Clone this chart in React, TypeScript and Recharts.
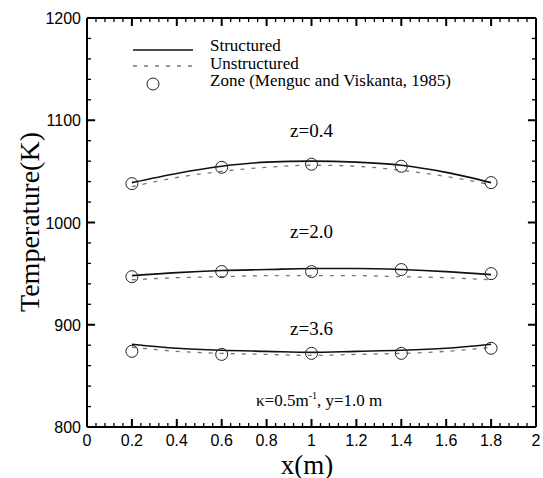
import { ComposedChart, Line, ReferenceDot, ReferenceLine, XAxis, YAxis } from "recharts";

// x positions of the computed profiles (m)
const xGrid = [0.2, 0.4, 0.6, 0.8, 1.0, 1.2, 1.4, 1.6, 1.8];

// temperature (K), one array per height z
const structured04 = [1039, 1048, 1055, 1059, 1060, 1059, 1056, 1049, 1039];
const unstructured04 = [1035, 1044, 1050, 1054, 1056, 1055, 1051, 1045, 1037];
const structured20 = [948, 951, 953, 954, 955, 955, 954, 952, 949];
const unstructured20 = [944, 946, 947, 948, 948, 948, 947, 946, 944];
const structured36 = [881, 877, 875, 874, 873, 874, 875, 877, 881];
const unstructured36 = [878, 874, 872, 871, 870, 871, 872, 874, 878];

// zone method reference points
const zoneX = [0.2, 0.6, 1.0, 1.4, 1.8];
const zone04 = [1038, 1054, 1057, 1055, 1039];
const zone20 = [947, 952, 952, 954, 950];
const zone36 = [874, 871, 872, 872, 877];

// curve labels: [text, x, T]
const curveLabels: Array<[string, number, number]> = [
  ["z=0.4", 1.0, 1084],
  ["z=2.0", 1.0, 985],
  ["z=3.6", 1.0, 890],
];

// axis ticks (majors every 0.2 / 100, four minors between)
const xTicks = Array.from({ length: 51 }, (_, i) => Math.round(i * 4) / 100);
const yTicks = Array.from({ length: 21 }, (_, i) => 800 + i * 20);

const X_MIN = 0;
const X_MAX = 2;
const Y_MIN = 800;
const Y_MAX = 1200;

const rows = xGrid.map((x, i) => ({
  x,
  s04: structured04[i],
  u04: unstructured04[i],
  s20: structured20[i],
  u20: unstructured20[i],
  s36: structured36[i],
  u36: unstructured36[i],
}));

const zoneRows = zoneX.map((x, i) => ({ x, z04: zone04[i], z20: zone20[i], z36: zone36[i] }));

const SERIF = "'Liberation Serif', 'Times New Roman', serif";
const SANS = "'Liberation Sans', Arial, sans-serif";

const fmtX = (v: number) => String(Number(v.toFixed(2)));
const isMajorX = (v: number) => Math.abs(v * 5 - Math.round(v * 5)) < 1e-6;
const isMajorY = (v: number) => v % 100 === 0;

// inward tick lengths, in data units (about 8px / 4px on this plot)
const xTickLen = (v: number) => (isMajorX(v) ? 7.8 : 3.9);
const yTickLen = (v: number) => (isMajorY(v) ? 0.036 : 0.018);

function xLabel(props: any) {
  const v = Number(props.payload.value);
  if (!isMajorX(v)) return <g />;
  return (
    <text x={Number(props.x)} y={Number(props.y) + 19} textAnchor="middle" fontFamily={SANS} fontSize={16} fill="#000">
      {fmtX(v)}
    </text>
  );
}

function yLabel(props: any) {
  const v = Number(props.payload.value);
  if (!isMajorY(v)) return <g />;
  return (
    <text x={Number(props.x) - 6} y={Number(props.y) + 6} textAnchor="end" fontFamily={SANS} fontSize={16} fill="#000">
      {v}
    </text>
  );
}

const al = { stroke: "#000", strokeWidth: 2 };

export default function App() {
  return (
    <div style={{ position: "relative", width: 543, height: 478, background: "#fff" }}>
      <style>{"body{margin:0}"}</style>
      <ComposedChart width={543} height={478} data={rows} margin={{ top: 17, right: 6, bottom: 50, left: 86 }}>
        <XAxis xAxisId="b" dataKey="x" type="number" domain={[X_MIN, X_MAX]} ticks={xTicks} interval={0} height={1} tickSize={0} tickMargin={0} tickLine={false} axisLine={al} tick={xLabel} />
        <XAxis xAxisId="t" orientation="top" dataKey="x" type="number" domain={[X_MIN, X_MAX]} ticks={xTicks} interval={0} height={1} tickSize={0} tickMargin={0} tickLine={false} axisLine={al} tick={false} />
        <YAxis yAxisId="l" type="number" domain={[Y_MIN, Y_MAX]} ticks={yTicks} interval={0} width={1} tickSize={0} tickMargin={0} tickLine={false} axisLine={al} tick={yLabel} />
        <YAxis yAxisId="r" orientation="right" type="number" domain={[Y_MIN, Y_MAX]} ticks={yTicks} interval={0} width={1} tickSize={0} tickMargin={0} tickLine={false} axisLine={al} tick={false} />

        {/* inward tick marks on all four sides */}
        {xTicks.map((v) => (
          <ReferenceLine
            key={"xb" + v}
            xAxisId="b"
            yAxisId="l"
            segment={[{ x: v, y: Y_MIN }, { x: v, y: Y_MIN + xTickLen(v) }]}
            stroke="#000"
            strokeWidth={isMajorX(v) ? 2 : 1.3}
            ifOverflow="visible"
          />
        ))}
        {xTicks.map((v) => (
          <ReferenceLine
            key={"xt" + v}
            xAxisId="b"
            yAxisId="l"
            segment={[{ x: v, y: Y_MAX }, { x: v, y: Y_MAX - xTickLen(v) }]}
            stroke="#000"
            strokeWidth={isMajorX(v) ? 2 : 1.3}
            ifOverflow="visible"
          />
        ))}
        {yTicks.map((v) => (
          <ReferenceLine
            key={"yl" + v}
            xAxisId="b"
            yAxisId="l"
            segment={[{ x: X_MIN, y: v }, { x: X_MIN + yTickLen(v), y: v }]}
            stroke="#000"
            strokeWidth={isMajorY(v) ? 2 : 1.3}
            ifOverflow="visible"
          />
        ))}
        {yTicks.map((v) => (
          <ReferenceLine
            key={"yr" + v}
            xAxisId="b"
            yAxisId="l"
            segment={[{ x: X_MAX, y: v }, { x: X_MAX - yTickLen(v), y: v }]}
            stroke="#000"
            strokeWidth={isMajorY(v) ? 2 : 1.3}
            ifOverflow="visible"
          />
        ))}

        {["u04", "u20", "u36"].map((k) => (
          <Line
            key={k}
            xAxisId="b"
            yAxisId="l"
            type="monotone"
            dataKey={k}
            stroke="#777"
            strokeWidth={1.3}
            strokeDasharray="4 7"
            dot={false}
            activeDot={false}
            isAnimationActive={false}
          />
        ))}
        {["s04", "s20", "s36"].map((k) => (
          <Line
            key={k}
            xAxisId="b"
            yAxisId="l"
            type="monotone"
            dataKey={k}
            stroke="#111"
            strokeWidth={1.6}
            dot={false}
            activeDot={false}
            isAnimationActive={false}
          />
        ))}
        {["z04", "z20", "z36"].map((k) => (
          <Line
            key={k}
            xAxisId="b"
            yAxisId="l"
            data={zoneRows}
            dataKey={k}
            stroke="none"
            dot={{ r: 6, fill: "none", stroke: "#222", strokeWidth: 1 }}
            activeDot={false}
            isAnimationActive={false}
          />
        ))}
        {curveLabels.map(([text, x, t]) => (
          <ReferenceDot
            key={text}
            xAxisId="b"
            yAxisId="l"
            x={x}
            y={t}
            r={0}
            shape={(p: any) => (
              <text x={p.cx} y={p.cy} textAnchor="middle" fontFamily={SERIF} fontSize={19} fill="#000">
                {text}
              </text>
            )}
          />
        ))}
      </ComposedChart>

      {/* legend */}
      <div style={{ position: "absolute", left: 130, top: 37, fontFamily: SERIF, fontSize: 17, color: "#000" }}>
        {[
          { label: "Structured", kind: "solid" },
          { label: "Unstructured", kind: "dash" },
          { label: "Zone (Menguc and Viskanta, 1985)", kind: "circle" },
        ].map((item) => (
          <div key={item.label} style={{ display: "flex", alignItems: "center", height: 17.5 }}>
            <svg width={80} height={20} style={{ flex: "none", overflow: "visible" }}>
              {item.kind === "solid" && <line x1={3} x2={63} y1={14} y2={14} stroke="#111" strokeWidth={1.6} />}
              {item.kind === "dash" && (
                <line x1={3} x2={63} y1={13} y2={13} stroke="#777" strokeWidth={1.3} strokeDasharray="4 7" />
              )}
              {item.kind === "circle" && <circle cx={23} cy={13} r={6} fill="none" stroke="#222" strokeWidth={1} />}
            </svg>
            <span style={{ lineHeight: "17px" }}>{item.label}</span>
          </div>
        ))}
      </div>

      {/* parameters */}
      <div style={{ position: "absolute", left: 256, top: 390, fontFamily: SERIF, fontSize: 17, color: "#000" }}>
        κ=0.5m<sup style={{ fontSize: 10 }}>-1</sup>, y=1.0 m
      </div>

      {/* axis titles */}
      <div
        style={{
          position: "absolute",
          left: 307,
          top: 465,
          transform: "translate(-50%, -50%)",
          fontFamily: SERIF,
          fontSize: 27,
          whiteSpace: "nowrap",
        }}
      >
        x(m)
      </div>
      <div
        style={{
          position: "absolute",
          left: 30,
          top: 222,
          transform: "translate(-50%, -50%) rotate(-90deg)",
          fontFamily: SERIF,
          fontSize: 28,
          whiteSpace: "nowrap",
        }}
      >
        Temperature(K)
      </div>
    </div>
  );
}
